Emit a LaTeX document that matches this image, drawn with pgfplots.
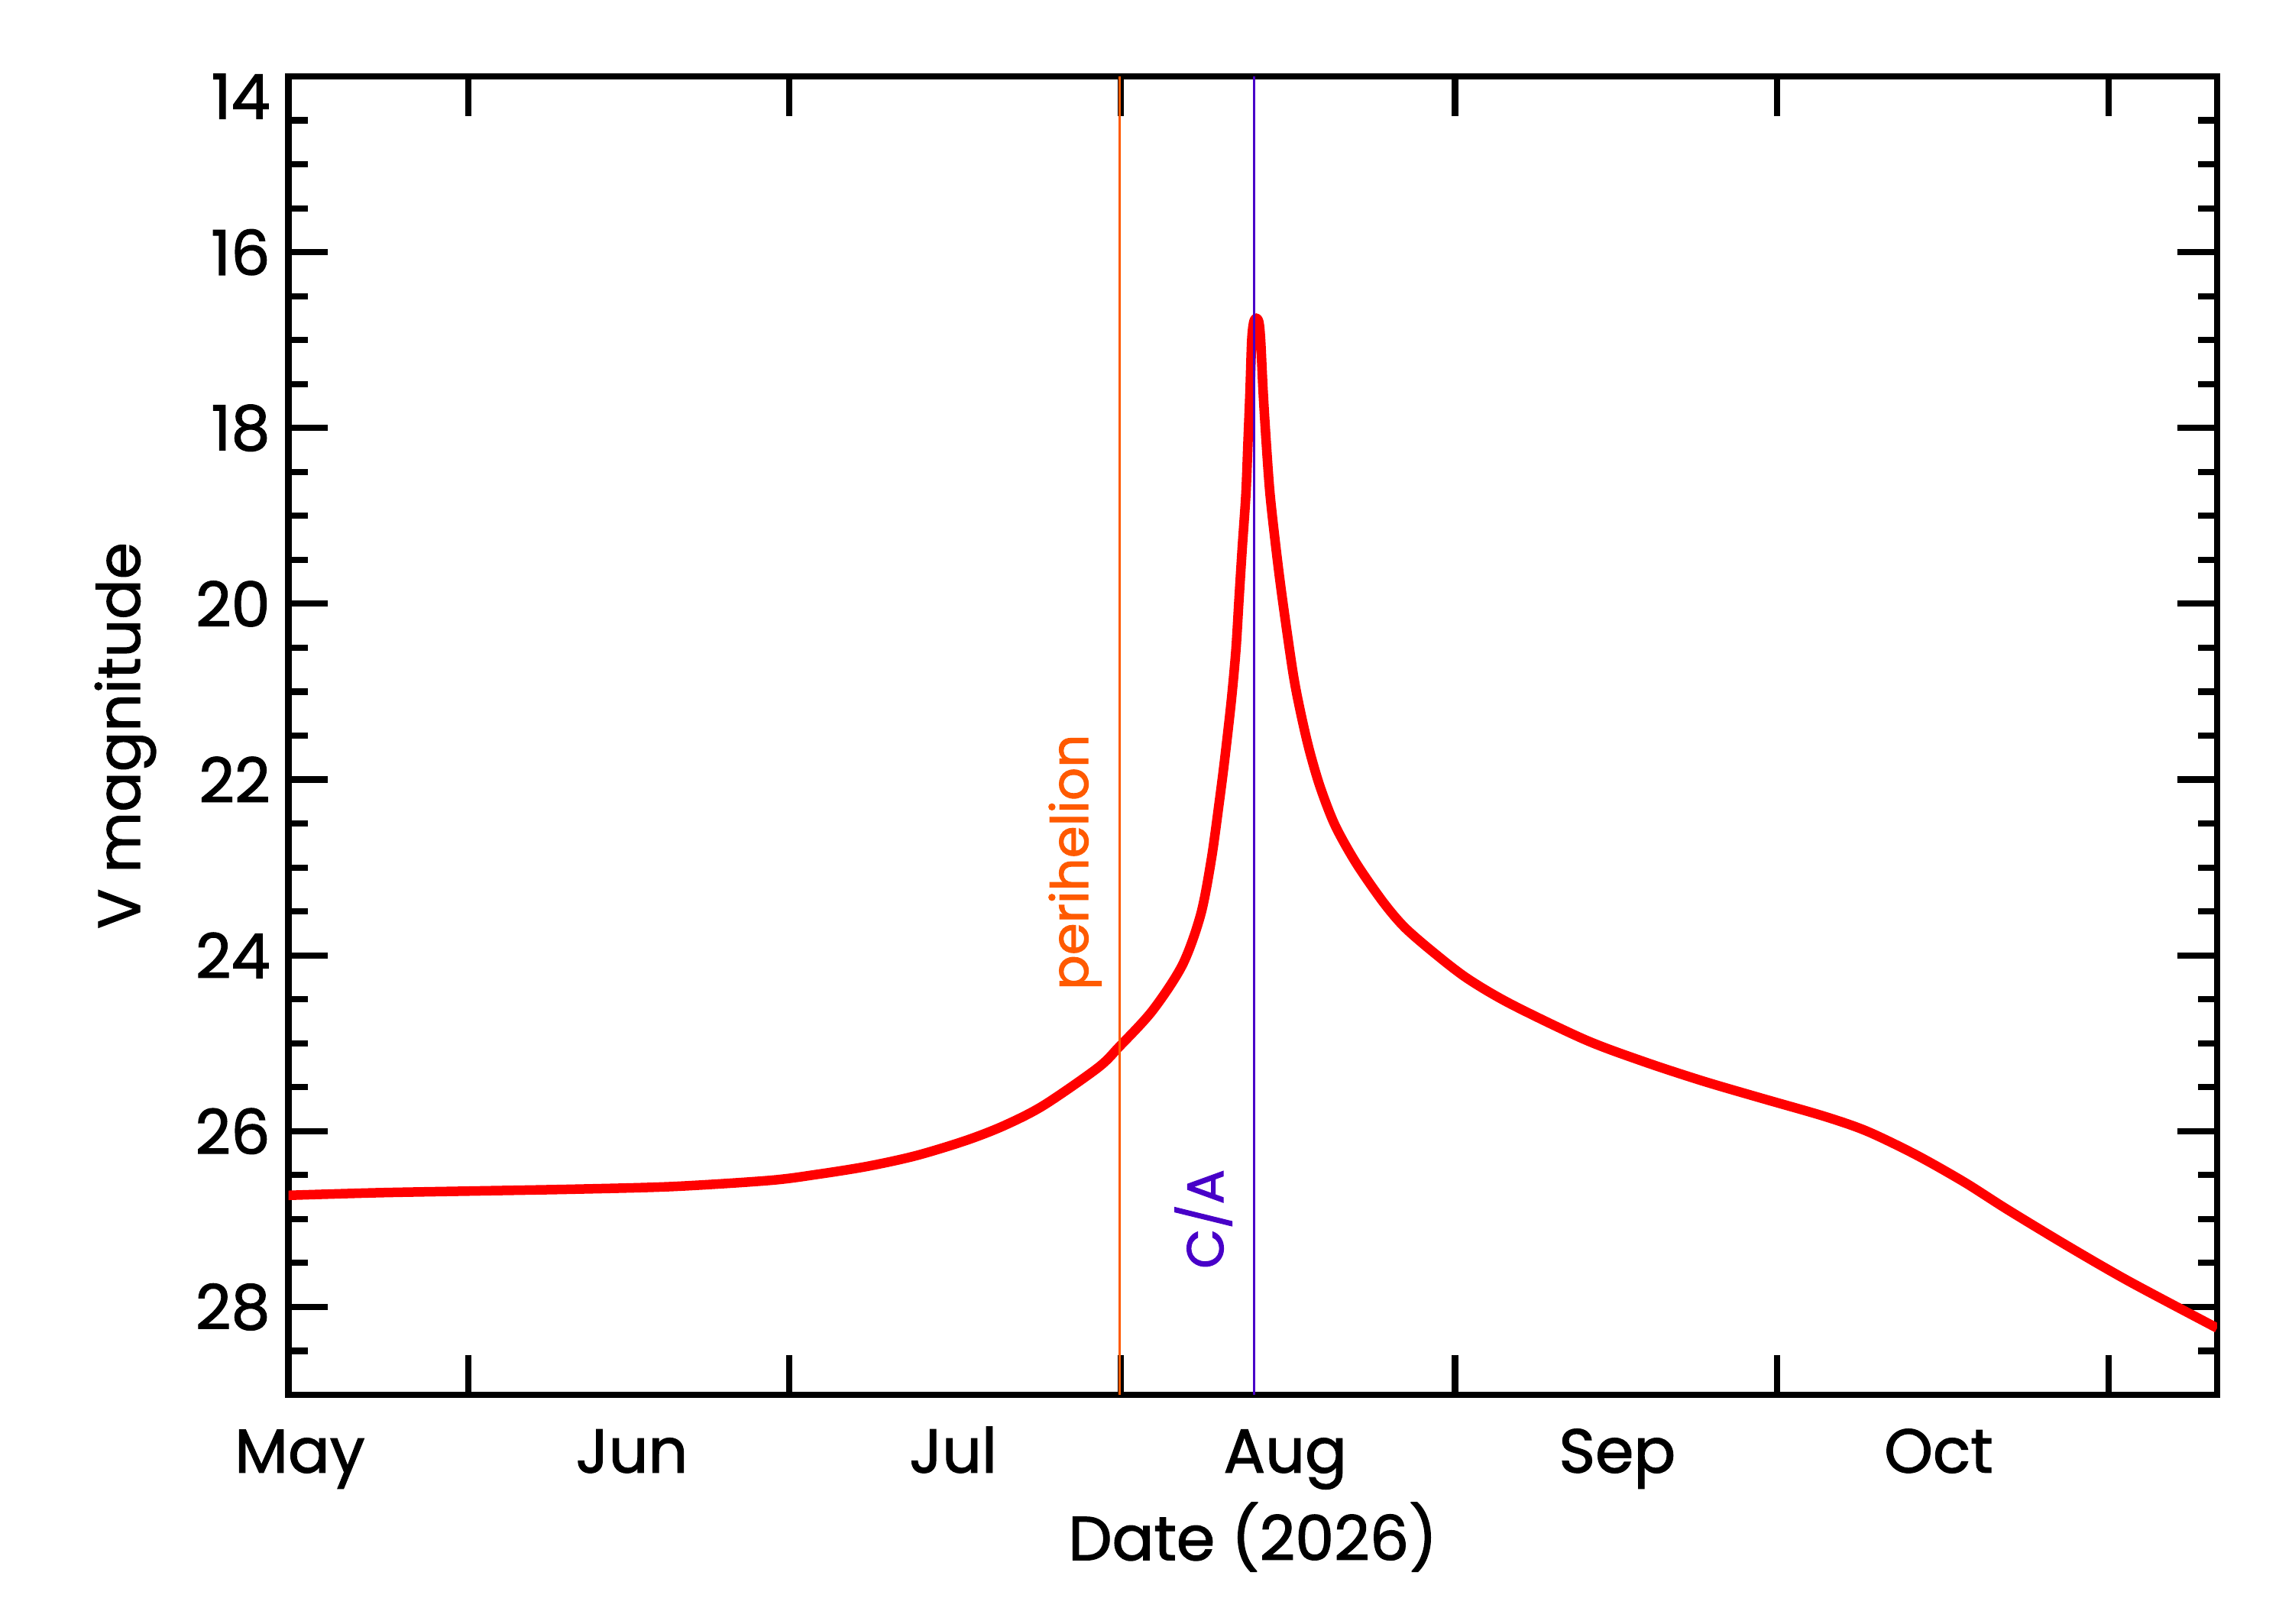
\documentclass[border=0pt]{standalone}
\usepackage{pgfplots}
\pgfplotsset{compat=1.18}
\usepackage{pgfplotstable}
\usepackage{fontspec}
\setmainfont{Poppins}[FakeBold=1.5]

\definecolor{magred}{RGB}{255,0,0}
\definecolor{peri}{RGB}{255,90,0}
\definecolor{closeapp}{RGB}{72,0,200}

% days counted from 1 May 2026, V magnitude
\pgfplotstableread{
day    mag
-1.06  26.73
7.5    26.70
16.6   26.68
25.7   26.66
34.8   26.63
43.9   26.56
48.4   26.49
53.0   26.40
57.5   26.28
62.1   26.11
65.7   25.94
69.4   25.71
74.5   25.28
76.5   25.04
79.6   24.63
82.4   24.11
84.1   23.54
85.1   22.91
85.85  22.25
86.33  21.79
86.97  21.10
87.40  20.52
87.69  19.94
87.99  19.36
88.33  18.75
88.52  18.17
88.71  17.59
88.87  17.01
89.05  16.80
89.30  16.75
89.55  16.80
89.71  17.01
89.94  17.59
90.23  18.17
90.58  18.75
91.13  19.36
91.73  19.94
92.72  20.78
93.39  21.21
94.22  21.65
95.25  22.08
96.65  22.52
98.62  22.95
101.12 23.39
103.14 23.68
105.88 23.97
108.97 24.26
113.0  24.55
120.0  24.96
125.5  25.21
131.0  25.43
136.6  25.63
142.3  25.83
146.3  26.00
150.9  26.27
155.4  26.58
159.4  26.89
165.1  27.31
170.8  27.71
179.0  28.24
}\vmag

\begin{document}
\begin{tikzpicture}
\useasboundingbox (0,0) rectangle (15.6cm,11.05cm);
\begin{axis}[
  at={(1.963cm,1.555cm)}, anchor=south west,
  scale only axis, width=13.127cm, height=8.975cm,
  xmin=-1.06, xmax=179.0,
  ymin=14, ymax=29, y dir=reverse,
  font=\fontsize{12}{14}\selectfont,
  /pgf/number format/assume math mode=true,
  axis line style={line width=1.2pt},
  tick style={black, line width=1.2pt},
  tick align=inside,
  major tick length=0.27cm,
  minor tick length=0.13cm,
  xtick={15.73,45.7,76.65,107.85,137.9,168.9},
  xticklabels={,,,,,},
  extra x ticks={0,31,61,92,123,153},
  extra x tick labels={May,Jun,Jul,Aug,Sep,Oct},
  extra x tick style={major tick length=0pt,
    xticklabel style={anchor=base, yshift=-0.529cm}},
  ytick={16,18,...,28},
  minor ytick={14.5,15,...,28.5},
  extra y ticks={14},
  extra y tick style={yticklabel style={anchor=north east, yshift=4pt}},
  xlabel={Date (2026)},
  xlabel style={at={(axis description cs:0.5,0)}, anchor=base, yshift=-1.125cm},
  ylabel={V magnitude},
  ylabel style={at={([xshift=-1.011cm]axis description cs:0,0.5)}, anchor=base,
    font=\fontsize{11.5}{14}\selectfont},
]
\addplot[magred, line width=1.85pt, smooth, line join=round] table[x=day, y=mag] {\vmag};
\addplot[peri, line width=0.45pt] coordinates {(76.53,14) (76.53,29)};
\addplot[closeapp, line width=0.45pt] coordinates {(89.09,14) (89.09,29)};
\node[rotate=90, anchor=base, text=peri, font=\fontsize{10}{12}\selectfont] at (axis cs:73.59,22.94) {perihelion};
\node[rotate=90, anchor=base, text=closeapp, font=\fontsize{10}{12}\selectfont] at (axis cs:86.22,27.0) {C/A};
\end{axis}
\end{tikzpicture}
\end{document}
